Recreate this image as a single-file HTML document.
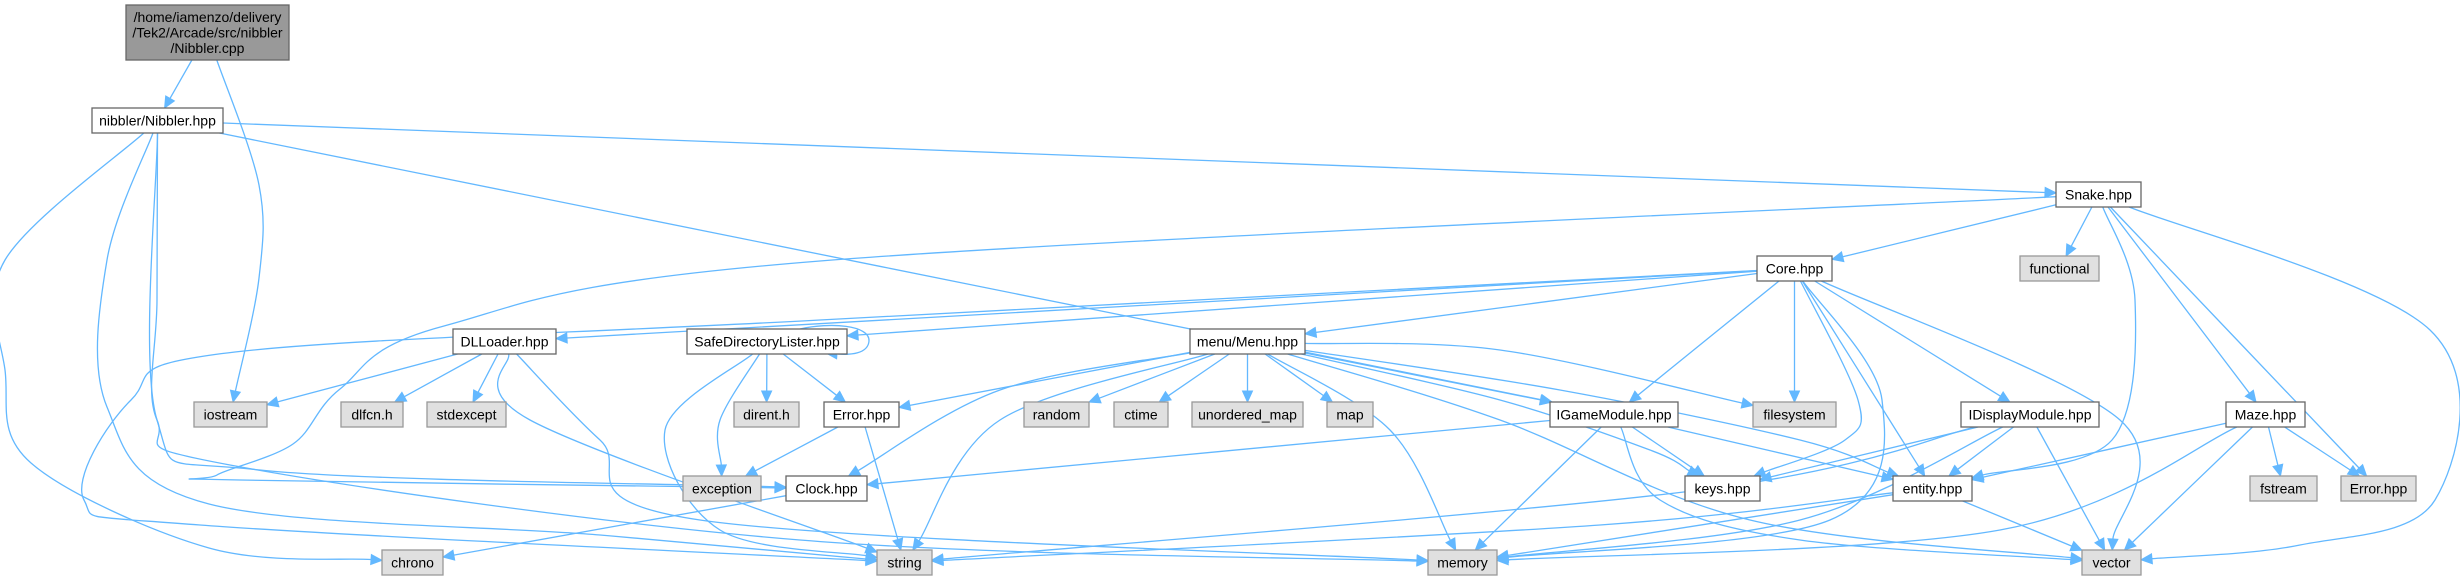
<!DOCTYPE html>
<html><head><meta charset="utf-8"><style>
html,body{margin:0;padding:0;background:#fff;}
svg{display:block;}
text{font-family:"Liberation Sans",Arial,sans-serif;font-size:14px;fill:#000;}
</style></head><body>
<svg id="g" width="2460" height="579" viewBox="0 0 2460 579" xmlns="http://www.w3.org/2000/svg">
<g id="edges"></g>
<g id="nodes"></g>
</svg>
<script>
const nodeIds = ["cpp","nhpp","snake","core","functional","dll","sdl","menu","iostream","dlfcn","stdexcept","dirent","error1","random","ctime","umap","map","igame","filesystem","idisp","maze","exception","clock","keys","entity","fstream","error2","chrono","string","memory","vector"];
const nodeLabels = [["/home/iamenzo/delivery","/Tek2/Arcade/src/nibbler","/Nibbler.cpp"],["nibbler/Nibbler.hpp"],["Snake.hpp"],["Core.hpp"],["functional"],["DLLoader.hpp"],["SafeDirectoryLister.hpp"],["menu/Menu.hpp"],["iostream"],["dlfcn.h"],["stdexcept"],["dirent.h"],["Error.hpp"],["random"],["ctime"],["unordered_map"],["map"],["IGameModule.hpp"],["filesystem"],["IDisplayModule.hpp"],["Maze.hpp"],["exception"],["Clock.hpp"],["keys.hpp"],["entity.hpp"],["fstream"],["Error.hpp"],["chrono"],["string"],["memory"],["vector"]];
const nodeKinds = ["main","file","file","file","sys","file","file","file","sys","sys","sys","sys","file","sys","sys","sys","sys","file","sys","file","file","sys","file","file","file","sys","sys","sys","sys","sys","sys"];
const nodeBoxes = [[126,5,163,55],[92,108,131,25],[2056,182,85,25],[1757,256,75,25],[2020,256,79,25],[453,329,103,25],[687,329,160,25],[1190,329,115,25],[194,402,73,25],[341,402,62,25],[427,402,79,25],[734,402,65,25],[824,402,75,25],[1024,402,65,25],[1114,402,54,25],[1192,402,111,25],[1327,402,46,25],[1550,402,128,25],[1753,402,83,25],[1961,402,138,25],[2226,402,79,25],[683,476,78,25],[786,476,81,25],[1685,476,75,25],[1893,476,79,25],[2250,476,67,25],[2341,476,75,25],[382,550,61,25],[877,550,55,25],[1428,550,69,25],[2082,550,59,25]];
const edgeFrom = ["cpp","cpp","nhpp","nhpp","nhpp","nhpp","nhpp","nhpp","snake","snake","snake","snake","snake","snake","snake","core","core","core","core","core","core","core","core","core","core","core","dll","dll","dll","dll","dll","sdl","sdl","sdl","sdl","menu","menu","menu","menu","menu","menu","menu","menu","menu","menu","menu","menu","menu","error1","error1","igame","igame","igame","igame","igame","idisp","idisp","idisp","idisp","idisp","maze","maze","maze","maze","maze","entity","entity","entity","clock"];
const edgeTo = ["nhpp","iostream","snake","igame","chrono","string","memory","clock","clock","core","functional","entity","maze","error2","vector","dll","sdl","menu","igame","filesystem","keys","memory","idisp","vector","string","entity","iostream","dlfcn","stdexcept","string","memory","dirent","exception","error1","string","error1","random","ctime","umap","map","string","clock","memory","igame","keys","entity","vector","filesystem","exception","string","clock","memory","keys","entity","vector","keys","entity","memory","vector","string","entity","memory","vector","fstream","error2","string","memory","vector","chrono"];
const edgeVia = [[],[[259,185],[259,278]],[],[],[[5,260],[5,370],[31,463],[209,548]],[[107,260],[107,407],[209,504],[600,535]],[[157,300],[157,420],[230,465],[800,540]],[[157,420],[260,470]],[[820,261],[444,326],[340,389],[293,444],[217,475],[240,480]],[],[],[[2135,300],[2112,440]],[],[],[[2430,330],[2435,500],[2300,545]],[],[],[],[],[],[[1858,400],[1845,440]],[[1882,400],[1830,520]],[],[[2120,420]],[[820,320],[235,352],[131,400],[84,500],[200,525]],[],[],[],[],[[530,420]],[[600,440],[700,520]],[],[[720,420]],[],[[665,430],[720,530]],[],[],[],[],[],[[1000,420]],[[1000,390]],[[1390,430]],[],[[1500,400],[1650,450]],[[1560,390],[1800,440]],[[1500,420],[1750,520]],[[1500,350]],[],[],[],[],[],[],[[1660,500],[1800,540]],[],[],[[1800,520]],[],[[1700,490]],[],[[2000,530]],[],[],[],[[1600,525]],[],[],[]];

const NS="http://www.w3.org/2000/svg";
const C="#63b8ff";
const eg=document.getElementById('edges'), ng=document.getElementById('nodes');
function box(id){const b=nodeBoxes[nodeIds.indexOf(id)];return {x:b[0],y:b[1],w:b[2],h:b[3],cx:b[0]+b[2]/2,cy:b[1]+b[3]/2};}
function edgePt(b,p){const dx=p[0]-b.cx,dy=p[1]-b.cy;const t=Math.min(dx?(b.w/2)/Math.abs(dx):1e9,dy?(b.h/2)/Math.abs(dy):1e9);return [b.cx+dx*t,b.cy+dy*t];}
function crPath(pts){let d=`M${pts[0][0].toFixed(1)},${pts[0][1].toFixed(1)}`;for(let i=0;i<pts.length-1;i++){const p0=pts[Math.max(0,i-1)],p1=pts[i],p2=pts[i+1],p3=pts[Math.min(pts.length-1,i+2)];const c1=[p1[0]+(p2[0]-p0[0])/6,p1[1]+(p2[1]-p0[1])/6],c2=[p2[0]-(p3[0]-p1[0])/6,p2[1]-(p3[1]-p1[1])/6];d+=` C${c1[0].toFixed(1)},${c1[1].toFixed(1)} ${c2[0].toFixed(1)},${c2[1].toFixed(1)} ${p2[0].toFixed(1)},${p2[1].toFixed(1)}`;}return d;}
function arrow(tip,from,name){const dx=tip[0]-from[0],dy=tip[1]-from[1],L=Math.hypot(dx,dy)||1,ux=dx/L,uy=dy/L;const bx=tip[0]-ux*11,by=tip[1]-uy*11;const pg=document.createElementNS(NS,'polygon');pg.setAttribute('points',`${tip[0]},${tip[1]} ${bx-uy*5},${by+ux*5} ${bx+uy*5},${by-ux*5}`);pg.setAttribute('fill',C);pg.setAttribute('stroke',C);


eg.appendChild(pg);return [bx,by];}
for(let i=0;i<edgeFrom.length;i++){const a=box(edgeFrom[i]),b=box(edgeTo[i]),via=edgeVia[i];const first=via.length?via[0]:[b.cx,b.cy],last=via.length?via[via.length-1]:[a.cx,a.cy];const s=edgePt(a,first),t=edgePt(b,last);const name='edge-'+edgeFrom[i]+'-to-'+edgeTo[i];const prev=via.length?via[via.length-1]:s;const base=arrow(t,prev,name);const p=document.createElementNS(NS,'path');p.setAttribute('d',crPath([s,...via,base]));p.setAttribute('fill','none');p.setAttribute('stroke',C);p.setAttribute('stroke-width','1.3');


eg.appendChild(p);}
// self loop on SafeDirectoryLister
(function(){const lp=document.createElementNS(NS,'path');lp.setAttribute('d','M800,329 C830,322 870,325 869,341 C868,354 850,355 838,354');lp.setAttribute('fill','none');lp.setAttribute('stroke',C);lp.setAttribute('stroke-width','1.3');


eg.appendChild(lp);arrow([826,353],[840,354],'edge-sdl-self-loop');})();
for(let i=0;i<nodeIds.length;i++){const b=nodeBoxes[i],k=nodeKinds[i];const g=document.createElementNS(NS,'g');


const r=document.createElementNS(NS,'rect');r.setAttribute('x',b[0]);r.setAttribute('y',b[1]);r.setAttribute('width',b[2]);r.setAttribute('height',b[3]);r.setAttribute('fill',k=='main'?'#999999':(k=='sys'?'#e0e0e0':'#ffffff'));r.setAttribute('stroke',k=='sys'?'#999999':'#666666');r.setAttribute('stroke-width','1.3');g.appendChild(r);
const lines=nodeLabels[i];lines.forEach((ln,j)=>{const t=document.createElementNS(NS,'text');t.setAttribute('x',b[0]+b[2]/2);t.setAttribute('y',b[1]+b[3]/2+5+(j-(lines.length-1)/2)*15.5);t.setAttribute('text-anchor','middle');t.textContent=ln;g.appendChild(t);});ng.appendChild(g);}
</script>
</body></html>
